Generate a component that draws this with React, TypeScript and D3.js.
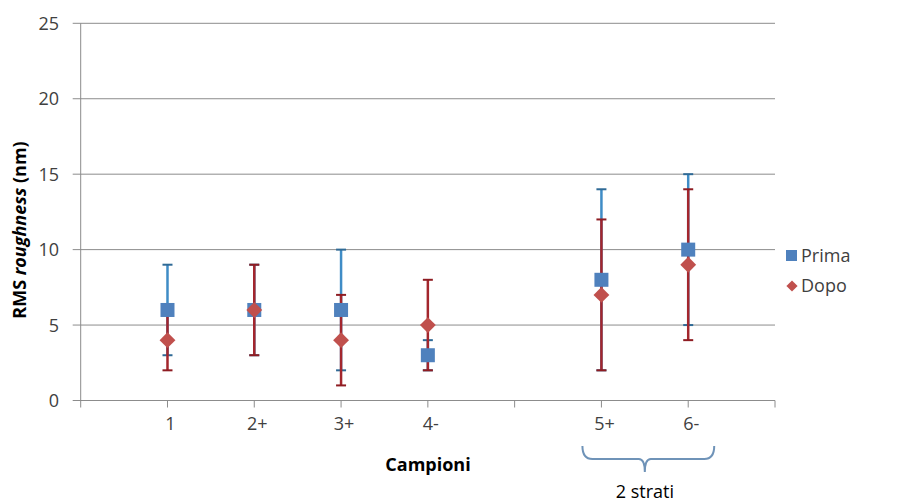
import React from "react";
import * as d3 from "d3";

const categories = ["1", "2+", "3+", "4-", "", "5+", "6-"];
const catPos = [1, 2, 3, 4, 5, 6, 7];

// Prima (blue squares): value, lower, upper
const primaX = [1, 2, 3, 4, 6, 7];
const primaVal = [6, 6, 6, 3, 8, 10];
const primaLow = [3, 3, 2, 2, 2, 5];
const primaHigh = [9, 9, 10, 4, 14, 15];

// Dopo (red diamonds)
const dopoX = [1, 2, 3, 4, 6, 7];
const dopoVal = [4, 6, 4, 5, 7, 9];
const dopoLow = [2, 3, 1, 2, 2, 4];
const dopoHigh = [6, 9, 7, 8, 12, 14];

const yTicks = [0, 5, 10, 15, 20, 25];

const FONT = "'Open Sans', Lato, sans-serif";

export default function App() {
  const W = 910, H = 504;
  const x = d3.scaleLinear().domain([0, 8]).range([80.7, 775]);
  const y = d3.scaleLinear().domain([0, 25]).range([400.5, 23.3]);
  const blueBar = "#3f8cc6";
  const blueCap = "#2f6a96";
  const redBar = "#a3262d";
  const redCap = "#8e1c22";
  const blue = "#4f81bd";
  const red = "#c0504d";
  const capW = 5;
  const diamond = d3.symbol().type(d3.symbolDiamond2).size(160)();

  const bars = (xs: number[], lo: number[], hi: number[], col: string, cap: string, key: string) =>
    xs.map((xv, i) => (
      <g key={key + i}>
        <line x1={x(xv)} x2={x(xv)} y1={y(lo[i])} y2={y(hi[i])} stroke={col} strokeWidth={2.5} />
        <line x1={x(xv) - capW} x2={x(xv) + capW} y1={y(lo[i])} y2={y(lo[i])} stroke={cap} strokeWidth={2} />
        <line x1={x(xv) - capW} x2={x(xv) + capW} y1={y(hi[i])} y2={y(hi[i])} stroke={cap} strokeWidth={2} />
      </g>
    ));

  const bx = x(0);
  const mid = (x(6) + x(7)) / 2;
  return (
    <svg width={W} height={H} style={{ position: "absolute", left: 0, top: 0, background: "#fff" }}>
      <rect width={W} height={H} fill="#fff" />
      {yTicks.map((t) => (
        <g key={"g" + t}>
          <line x1={bx - 8} x2={x(8)} y1={y(t)} y2={y(t)} stroke="#8c8c8c" strokeWidth={1} />
          <text x={59} y={y(t)} dy="0.36em" textAnchor="end" fontFamily={FONT} fontSize={18} fill="#404040">
            {t}
          </text>
        </g>
      ))}
      <line x1={bx} x2={bx} y1={y(0)} y2={y(25)} stroke="#8c8c8c" strokeWidth={1} />
      {d3.range(0, 9).map((t) => (
        <line key={"xt" + t} x1={x(t)} x2={x(t)} y1={y(0)} y2={y(0) + 7} stroke="#8c8c8c" strokeWidth={1} />
      ))}
      {categories.map((c, i) => (
        <text key={"xl" + i} x={x(catPos[i]) + 3} y={424} dy="0.36em" textAnchor="middle" fontFamily={FONT} fontSize={18} fill="#404040">
          {c}
        </text>
      ))}
      {bars(primaX, primaLow, primaHigh, blueBar, blueCap, "pb")}
      {bars(dopoX, dopoLow, dopoHigh, redBar, redCap, "db")}
      {primaX.map((xv, i) => (
        <rect key={"ps" + i} x={x(xv) - 7} y={y(primaVal[i]) - 7} width={14} height={14} fill={blue} />
      ))}
      {dopoX.map((xv, i) => (
        <path key={"dd" + i} d={diamond} transform={`translate(${x(xv)},${y(dopoVal[i])})`} fill={red} />
      ))}
      <text x={428} y={465} dy="0.36em" textAnchor="middle" fontFamily={FONT} fontSize={18} fontWeight="bold" fill="#000">
        Campioni
      </text>
      <text transform={`translate(20,230) rotate(-90)`} textAnchor="middle" dy="0.36em" fontFamily={FONT} fontSize={18} fontWeight="bold" fill="#000">
        RMS <tspan fontStyle="italic">roughness</tspan> (nm)
      </text>
      <path
        d={`M${x(6) - 19},446 Q${x(6) - 19},459 ${x(6) - 9},459 L${mid - 6},459 Q${mid},459 ${mid},472 Q${mid},459 ${mid + 6},459 L${x(7) + 16},459 Q${x(7) + 26},459 ${x(7) + 26},446`}
        fill="none"
        stroke="#6f93b8"
        strokeWidth={2}
      />
      <text x={mid} y={492} dy="0.36em" textAnchor="middle" fontFamily={FONT} fontSize={18} fill="#000">
        2 strati
      </text>
      <rect x={786} y={250} width={11} height={11} fill={blue} />
      <text x={801} y={256} dy="0.36em" fontFamily={FONT} fontSize={18} fill="#404040">Prima</text>
      <path d={d3.symbol().type(d3.symbolDiamond2).size(80)()} transform="translate(792,286)" fill={red} />
      <text x={801} y={286} dy="0.36em" fontFamily={FONT} fontSize={18} fill="#404040">Dopo</text>
    </svg>
  );
}
